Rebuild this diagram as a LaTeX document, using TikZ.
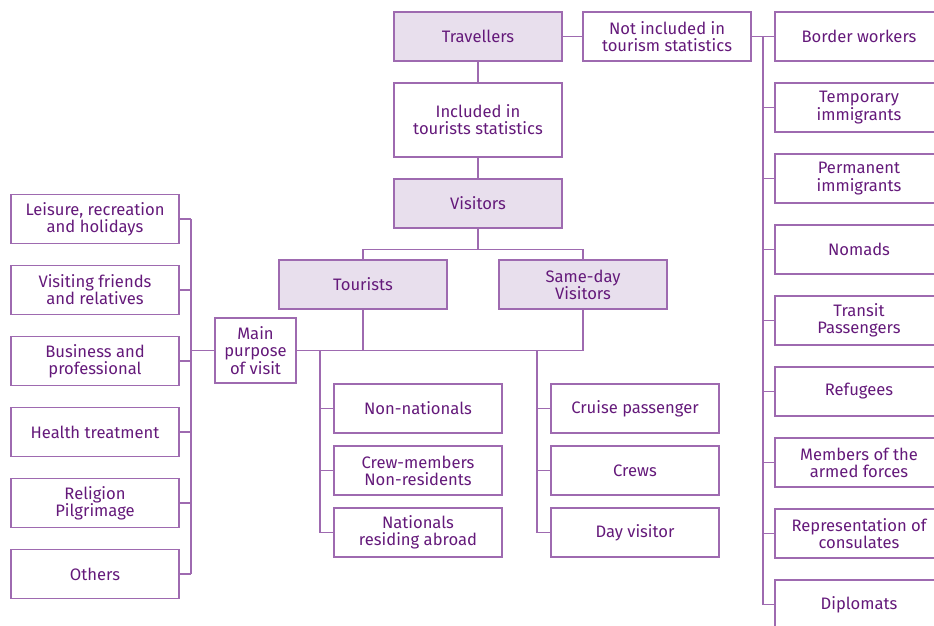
\documentclass[tikz,border=0pt]{standalone}
\usepackage{fontspec}
\setmainfont{Fira Sans}
\usetikzlibrary{positioning, calc}
\definecolor{boxline}{HTML}{9E6AB0}
\definecolor{boxtext}{HTML}{64197A}
\definecolor{boxfill}{HTML}{E8DFED}
\tikzset{
  box/.style={draw=boxline, line width=1.3pt, text=boxtext, align=center, inner sep=0pt,
    minimum width=168pt, minimum height=49pt, font=\fontsize{16.6}{17.2}\selectfont},
  hbox/.style={box, fill=boxfill},
  link/.style={draw=boxline, line width=1.3pt},
}

\begin{document}
\begin{tikzpicture}[x=1pt, y=1pt]
    \useasboundingbox (0,0) rectangle (934,-625);
    \clip (0,0) rectangle (934,-625);

    % Top of the tree
    \node[hbox] (trav) at (478,-36.5) {Travellers};
    \node[box] (notinc) at (667,-36.5) {Not included in\\tourism statistics};
    \node[box, minimum height=74pt] (incl) at (478,-120) {Included in\\tourists statistics};
    \node[hbox] (vis) at (478,-203.5) {Visitors};
    \node[hbox] (tour) at (363,-284.5) {Tourists};
    \node[hbox] (sday) at (583,-284.5) {Same-day\\Visitors};
    \node[box, minimum width=81pt, minimum height=65pt] (main) at (255.5,-350.5) {Main\\purpose\\of visit};

    % Purposes
    \foreach \i/\txt in {1/{Leisure, recreation\\and holidays}, 2/{Visiting friends\\and relatives},
        3/{Business and\\professional}, 4/{Health treatment}, 5/{Religion\\Pilgrimage}, 6/{Others}} {
        \node[box] (l\i) at (95,{-219-71*(\i-1)}) {\txt};
    }

    % Tourists and same-day visitors
    \foreach \i/\txt in {1/{Non-nationals}, 2/{Crew-members\\Non-residents}, 3/{Nationals\\residing abroad}} {
        \node[box] (t\i) at (418,{-408.5-62*(\i-1)}) {\txt};
    }
    \foreach \i/\txt in {1/{Cruise passenger}, 2/{Crews}, 3/{Day visitor}} {
        \node[box] (s\i) at (635,{-408.5-62*(\i-1)}) {\txt};
    }

    % Not included
    \foreach \i/\txt in {1/{Border workers}, 2/{Temporary\\immigrants}, 3/{Permanent\\immigrants},
        4/{Nomads}, 5/{Transit\\Passengers}, 6/{Refugees}, 7/{Members of the\\armed forces},
        8/{Representation of\\consulates}, 9/{Diplomats}} {
        \node[box] (r\i) at (859,{-36.5-71*(\i-1)}) {\txt};
    }

    % Links
    \draw[link] (trav) -- (notinc);
    \draw[link] (trav) -- (incl);
    \draw[link] (incl) -- (vis);
    \coordinate (vsplit) at ($(vis.south)+(0,-21)$);
    \draw[link] (vis) -- (vsplit);
    \draw[link] (tour.north) |- (vsplit) -| (sday.north);
    \draw[link] (main.east) -- (main.east -| sday.south);
    \draw[link] (tour) -- (tour.south |- main.east);
    \draw[link] (sday) -- (sday.south |- main.east);

    \coordinate (lbus) at (191,0);
    \draw[link] (l1.east -| lbus) -- (l6.east -| lbus);
    \draw[link] (main) -- (main.west -| lbus);
    \foreach \i in {1,...,6} {
        \draw[link] (l\i.east) -- (l\i.east -| lbus);
    }

    \coordinate (tbus) at (320,0);
    \coordinate (sbus) at (537,0);
    \draw[link] (tbus |- main.east) -- (tbus |- t3.west);
    \draw[link] (sbus |- main.east) -- (sbus |- s3.west);
    \foreach \i in {1,2,3} {
        \draw[link] (t\i.west) -- (t\i.west -| tbus);
        \draw[link] (s\i.west) -- (s\i.west -| sbus);
    }

    \coordinate (rbus) at (763,0);
    \draw[link] (notinc) -- (r1);
    \draw[link] (rbus |- r1.west) -- (rbus |- r9.west);
    \foreach \i in {2,...,9} {
        \draw[link] (r\i.west) -- (r\i.west -| rbus);
    }
\end{tikzpicture}
\end{document}
